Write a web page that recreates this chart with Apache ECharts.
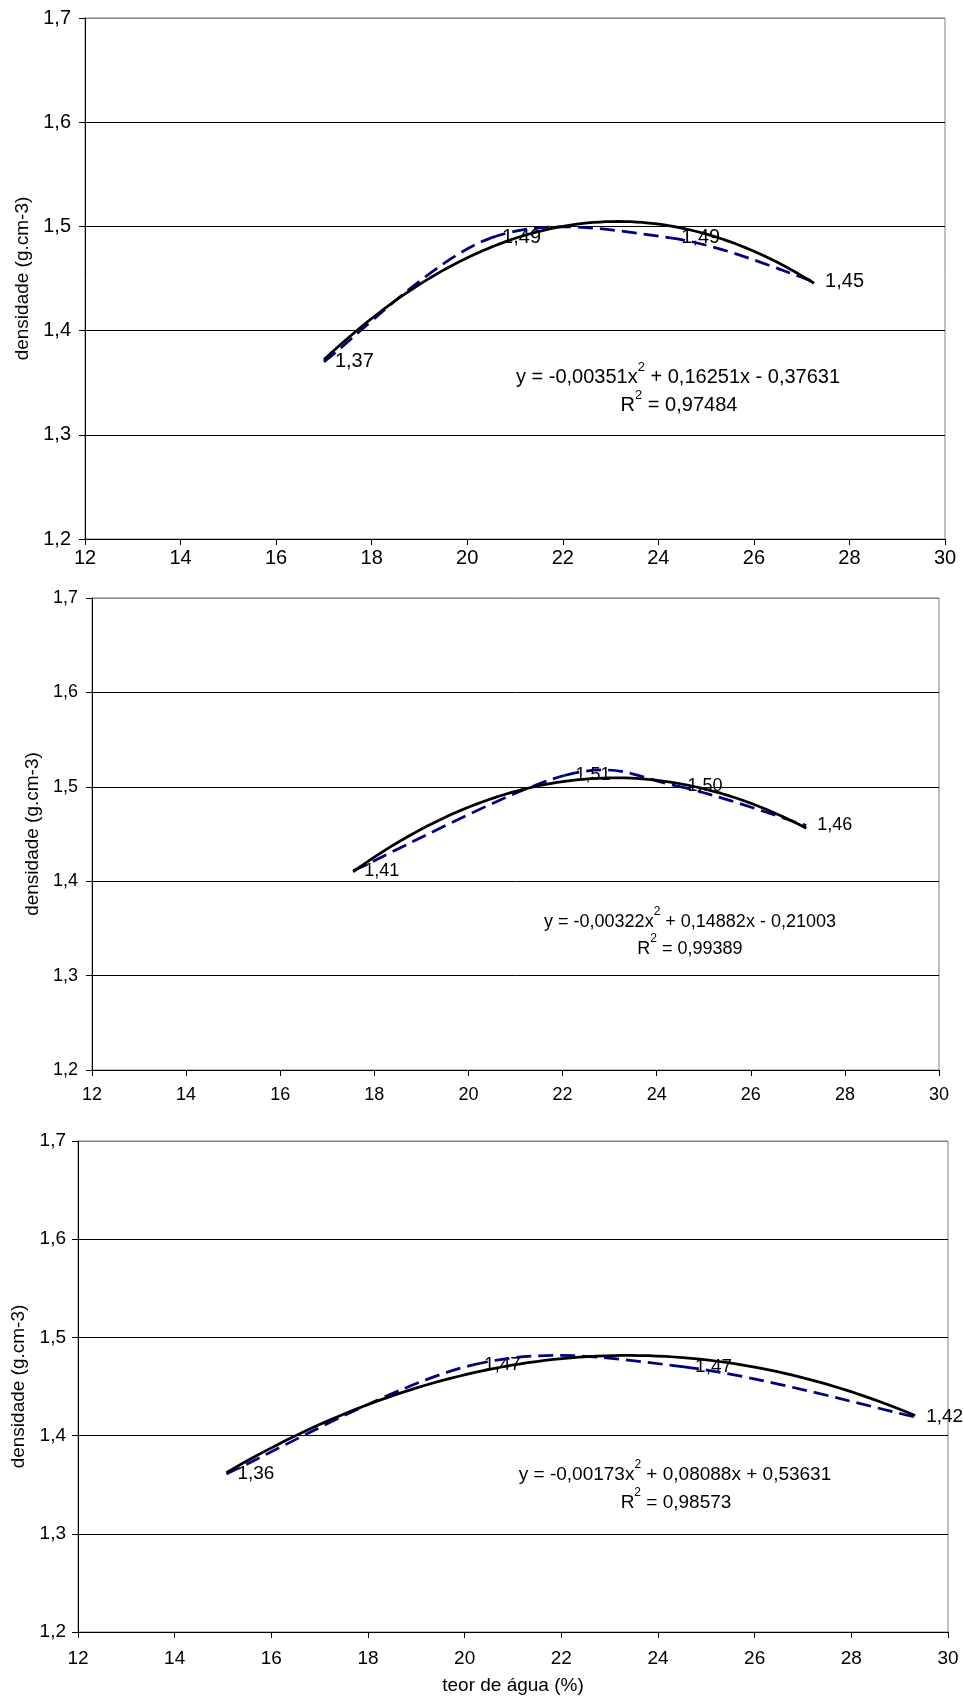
<!DOCTYPE html>
<html><head><meta charset="utf-8">
<script src="https://cdn.jsdelivr.net/npm/echarts@6/dist/echarts.min.js"></script>
<style>html,body{margin:0;padding:0;background:#fff}#c{width:964px;height:1704px}</style>
</head><body><div id="c"></div>
<script>
// ---- data ----
const xTicks = [12, 14, 16, 18, 20, 22, 24, 26, 28, 30];
const yTicks = [1.2, 1.3, 1.4, 1.5, 1.6, 1.7];
const xTitle = 'teor de água (%)';
const yTitle = 'densidade (g.cm-3)';

const waterA = [17.0, 20.5, 24.25, 27.26];
const densityA = [1.370, 1.489, 1.489, 1.447];
const trendA = [-0.00351, 0.16251, -0.37631];
const r2A = '0,97484';

const waterB = [17.55, 22.04, 24.42, 27.18];
const densityB = [1.411, 1.512, 1.501, 1.459];
const trendB = [-0.00322, 0.14882, -0.21003];
const r2B = '0,99389';

const waterC = [15.07, 20.17, 24.54, 29.32];
const densityC = [1.361, 1.472, 1.470, 1.419];
const trendC = [-0.00173, 0.08088, 0.53631];
const r2C = '0,98573';

// ---- helpers ----
const FONT = "'Liberation Sans', Arial, sans-serif";
const comma = (v, d) => v.toFixed(d).replace('.', ',');
function coefStr(v, first) {
  const s = comma(Math.abs(v), 5);
  if (first) return (v < 0 ? '-' : '') + s;
  return (v < 0 ? ' - ' : ' + ') + s;
}
function equation(c) {
  return 'y = ' + coefStr(c[0], true) + 'x{s|2}' + coefStr(c[1]) + 'x' + coefStr(c[2]);
}
// polynomial trendline printed on the chart, evaluated over the data range
function trendLine(xs, c) {
  const x0 = Math.min(...xs), x1 = Math.max(...xs);
  const pts = [];
  const n = 80;
  for (let i = 0; i <= n; i++) {
    const x = x0 + (x1 - x0) * i / n;
    pts.push([x, c[0] * x * x + c[1] * x + c[2]]);
  }
  return pts;
}
// Excel-like smoothed line (Catmull-Rom bezier) through the data, via the axis scales
function smoothRenderer(pts) {
  return function (params, api) {
    const k = params.dataIndex;
    if (k >= pts.length - 1) return null;
    const P = pts.map(q => api.coord(q));
    const p0 = P[Math.max(k - 1, 0)], p1 = P[k], p2 = P[k + 1], p3 = P[Math.min(k + 2, P.length - 1)];
    const t = 1 / 6;
    return {
      type: 'bezierCurve',
      shape: {
        x1: p1[0], y1: p1[1], x2: p2[0], y2: p2[1],
        cpx1: p1[0] + (p2[0] - p0[0]) * t, cpy1: p1[1] + (p2[1] - p0[1]) * t,
        cpx2: p2[0] - (p3[0] - p1[0]) * t, cpy2: p2[1] - (p3[1] - p1[1]) * t
      },
      style: {stroke: '#000080', lineWidth: 2.75, lineDash: [15, 7], fill: null}
    };
  };
}

const panels = [
  {water: waterA, density: densityA, trend: trendA, r2: r2A,
   grid: {left: 85, right: 19, top: 18, height: 521}, fs: 20, yMargin: 14, xMargin: 9, nameGap: 50,
   eq: [678, 377], r2pos: [679, 405], xName: false},
  {water: waterB, density: densityB, trend: trendB, r2: r2B,
   grid: {left: 92, right: 25, top: 598, height: 472}, fs: 18, yMargin: 14, xMargin: 16, nameGap: 48,
   eq: [690, 922], r2pos: [690, 949], xName: false},
  {water: waterC, density: densityC, trend: trendC, r2: r2C,
   grid: {left: 78, right: 16, top: 1141, height: 491}, fs: 19, yMargin: 12, xMargin: 17, nameGap: 50,
   eq: [675, 1475], r2pos: [676, 1503], xName: true}
];

const grids = [], xAxes = [], yAxes = [], series = [], graphics = [];
panels.forEach((p, i) => {
  grids.push(Object.assign({show: true, borderColor: '#808080', borderWidth: 1, containLabel: false}, p.grid));
  xAxes.push({
    type: 'value', gridIndex: i, min: xTicks[0], max: xTicks[xTicks.length - 1], interval: xTicks[1] - xTicks[0],
    axisLine: {show: true, onZero: false, lineStyle: {color: '#000', width: 1}},
    axisTick: {show: true, inside: false, length: 6, lineStyle: {color: '#000'}},
    axisLabel: {color: '#000', fontFamily: FONT, fontSize: p.fs, margin: p.xMargin, formatter: v => String(v)},
    splitLine: {show: false},
    name: p.xName ? xTitle : '', nameLocation: 'middle', nameGap: 44,
    nameTextStyle: {color: '#000', fontFamily: FONT, fontSize: 19}
  });
  yAxes.push({
    type: 'value', gridIndex: i, min: yTicks[0], max: yTicks[yTicks.length - 1],
    interval: Math.round((yTicks[1] - yTicks[0]) * 10) / 10,
    axisLine: {show: true, onZero: false, lineStyle: {color: '#000', width: 1}},
    axisTick: {show: true, inside: false, length: 6, lineStyle: {color: '#000'}},
    axisLabel: {color: '#000', fontFamily: FONT, fontSize: p.fs, margin: p.yMargin, formatter: v => comma(v, 1)},
    splitLine: {show: true, lineStyle: {color: ['#000', '#000', '#000', '#000', '#000', '#808080'], width: 1}},
    name: yTitle, nameLocation: 'middle', nameGap: p.nameGap, nameRotate: 90,
    nameTextStyle: {color: '#000', fontFamily: FONT, fontSize: 19}
  });
  const pts = p.water.map((x, k) => [x, p.density[k]]);
  series.push({
    type: 'scatter', xAxisIndex: i, yAxisIndex: i, z: 1, symbolSize: 0, data: pts, silent: true,
    itemStyle: {opacity: 1},
    label: {show: true, position: 'right', distance: 11, color: '#000', opacity: 1, fontFamily: FONT, fontSize: p.fs,
            formatter: d => comma(d.value[1], 2)}
  });
  series.push({
    type: 'custom', xAxisIndex: i, yAxisIndex: i, z: 3, clip: false, silent: true,
    encode: {x: 0, y: 1}, data: pts, renderItem: smoothRenderer(pts)
  });
  series.push({
    type: 'line', xAxisIndex: i, yAxisIndex: i, z: 4, smooth: false, symbol: 'none', silent: true,
    data: trendLine(p.water, p.trend),
    lineStyle: {color: '#000', width: 2.75}
  });
  const rich = {s: {fontSize: Math.round(p.fs * 0.65), fontFamily: FONT, fill: '#000', padding: [0, 0, 20, 0]}};
  graphics.push({type: 'text', x: p.eq[0], y: p.eq[1], z: 10,
    style: {text: equation(p.trend), rich: rich, fontSize: p.fs, fontFamily: FONT, fill: '#000', align: 'center', verticalAlign: 'middle'}});
  graphics.push({type: 'text', x: p.r2pos[0], y: p.r2pos[1], z: 10,
    style: {text: 'R{s|2} = ' + p.r2, rich: rich, fontSize: p.fs, fontFamily: FONT, fill: '#000', align: 'center', verticalAlign: 'middle'}});
});

const chart = echarts.init(document.getElementById('c'), null, {renderer: 'canvas'});
chart.setOption({
  animation: false,
  backgroundColor: '#fff',
  textStyle: {fontFamily: FONT},
  grid: grids, xAxis: xAxes, yAxis: yAxes, series: series, graphic: graphics
});
</script></body></html>
